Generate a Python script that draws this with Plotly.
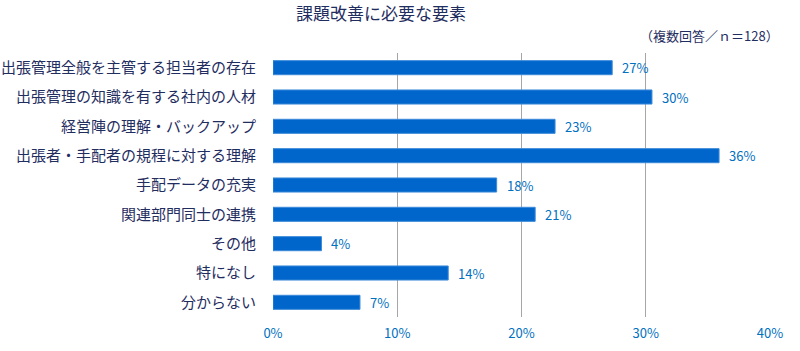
import plotly.graph_objects as go

categories = [
    "出張管理全般を主管する担当者の存在",
    "出張管理の知識を有する社内の人材",
    "経営陣の理解・バックアップ",
    "出張者・手配者の規程に対する理解",
    "手配データの充実",
    "関連部門同士の連携",
    "その他",
    "特になし",
    "分からない",
]
values = [27.3, 30.5, 22.7, 35.9, 18.0, 21.1, 3.9, 14.1, 7.0]
value_labels = ["27%", "30%", "23%", "36%", "18%", "21%", "4%", "14%", "7%"]
x_ticks = [0, 10, 20, 30, 40]
x_tick_labels = ["0%", "10%", "20%", "30%", "40%"]

FONT = "Noto Sans CJK JP"
NAVY = "#1F2D5F"
BLUE = "#0070C0"

fig = go.Figure()
fig.add_trace(go.Bar(
    y=categories, x=values, orientation="h",
    marker=dict(color="#0066CC", line=dict(color="#3B8AD9", width=1)),
    width=0.48,
    hoverinfo="skip",
))

for c, v, t in zip(categories, values, value_labels):
    fig.add_annotation(x=v, y=c, text=t, showarrow=False, xanchor="left",
                       xshift=8, font=dict(family=FONT, size=13, color=BLUE))

fig.add_annotation(x=1.0, y=(317 - 35) / 264, xref="paper", yref="paper",
                   text="（複数回答／ｎ＝128）", showarrow=False,
                   xanchor="right", yanchor="middle",
                   font=dict(family=FONT, size=13, color=NAVY), xshift=11)

fig.update_layout(
    width=800, height=351,
    margin=dict(l=273, r=30, t=53, b=34, autoexpand=False),
    paper_bgcolor="white", plot_bgcolor="white",
    showlegend=False,
    title=dict(text="課題改善に必要な要素", x=381 / 800, xanchor="center",
               y=1 - 14 / 351, yanchor="middle", yref="container",
               font=dict(family=FONT, size=17, color=NAVY)),
    xaxis=dict(range=[0, 40], tickvals=x_ticks, ticktext=x_tick_labels,
               showgrid=True, gridcolor="#A6A6A6", gridwidth=1,
               zeroline=False, showline=False, ticks="", automargin=False,
               ticklabelstandoff=7,
               tickfont=dict(family=FONT, size=13, color=BLUE)),
    yaxis=dict(autorange="reversed", showgrid=False, zeroline=False,
               showline=False, ticks="", ticklabelstandoff=16, automargin=False,
               tickfont=dict(family=FONT, size=15, color=NAVY)),
    bargap=0.52,
)

fig.write_html("out.html")
